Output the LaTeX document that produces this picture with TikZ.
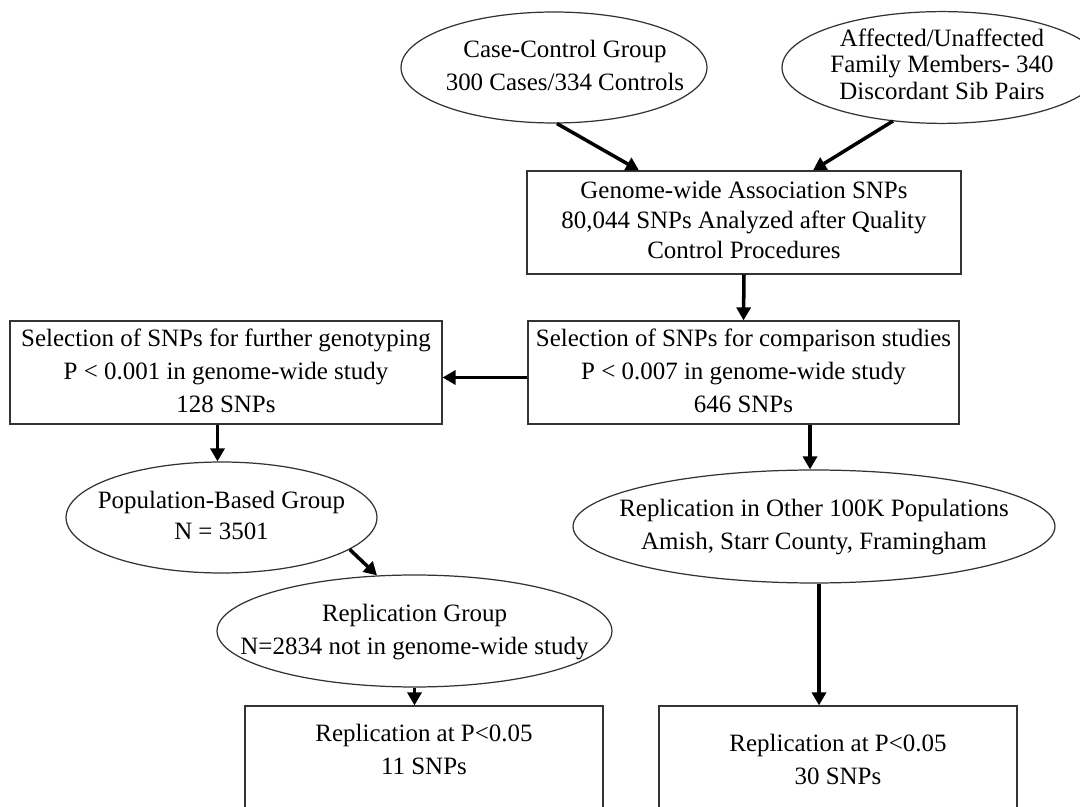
\documentclass[tikz,border=0pt]{standalone}
\usepackage{fontspec}
\setmainfont{Liberation Serif}
\usetikzlibrary{shapes.geometric,arrows.meta,calc}
\newcommand{\tx}[2][18.8pt]{\makebox[0pt]{\fontsize{14.2pt}{#1}\selectfont\begin{tabular}{@{}c@{}}#2\end{tabular}}}
\begin{document}
\begin{tikzpicture}[x=0.02cm,y=-0.02cm,
  ell/.style={ellipse,draw=black!80,line width=0.7pt,inner sep=0pt},
  boxx/.style={rectangle,draw=black!80,line width=0.7pt,inner sep=0pt},
  txt/.style={inner sep=0pt},
  arr/.style={line width=2pt,-{Triangle[length=0.26cm,width=0.28cm]}}]
\useasboundingbox[fill=white] (0,0) rectangle (1080,807);

\node[ell,minimum width=6.12cm,minimum height=2.22cm] (e1) at (554,67.5)
  {\hspace{0.44cm}\tx{Case-Control Group\\300 Cases/334 Controls}};
\node[ell,minimum width=6.40cm,minimum height=2.22cm] (e2) at (942,67.5)
  {\tx[15pt]{Affected/Unaffected\\Family Members- 340\\Discordant Sib Pairs}};

\node[boxx,minimum width=8.68cm,minimum height=2.06cm] (b1) at (744,222.5)
  {\tx[17pt]{Genome-wide Association SNPs\\80,044 SNPs Analyzed after Quality\\Control Procedures}};
\node[boxx,minimum width=8.62cm,minimum height=2.06cm] (b2) at (743.5,372.5)
  {\tx{Selection of SNPs for comparison studies\\P < 0.007 in genome-wide study\\646 SNPs}};
\node[boxx,minimum width=8.64cm,minimum height=2.06cm] (b3) at (226,372.5)
  {\tx{Selection of SNPs for further genotyping\\P < 0.001 in genome-wide study\\128 SNPs}};

\node[ell,minimum width=6.22cm,minimum height=2.22cm] (pb) at (221.5,517.5)
  {\tx[17.6pt]{Population-Based Group\\N = 3501}\hspace{0.2cm}};
\node[ell,minimum width=7.90cm,minimum height=2.24cm] (rg) at (414.5,631)
  {\tx{Replication Group\\N=2834 not in genome-wide study}};
\node[ell,minimum width=9.64cm,minimum height=2.26cm] (rio) at (814,526.5)
  {\tx{Replication in Other 100K Populations\\Amish, Starr County, Framingham}\hspace{0.16cm}};

\node[boxx,minimum width=7.16cm,minimum height=2.68cm] (bl) at (424,773) {};
\node[txt] (blt) at (424,751.5) {\tx{Replication at P<0.05\\11 SNPs}};
\node[boxx,minimum width=7.16cm,minimum height=2.68cm] (br) at (838,773) {};
\node[txt] (brt) at (838,761.5) {\tx{Replication at P<0.05\\30 SNPs}};

\coordinate (p1) at ($(pb.north)+(-4,0)$);
\coordinate (q1) at ($(rio.north)+(-4,0)$);
\coordinate (r1) at ($(rio.south)+(5,0)$);

\draw[arr] ($(e1.south)+(3,0)$) -- ($(b1.north)+(-105,0)$);
\draw[arr] ($(e2.south)+(-49,-3)$) -- ($(b1.north)+(69,0)$);
\draw[arr] (b1.south) -- (b2.north);
\draw[arr] ($(b2.west)+(0,5)$) -- ($(b3.east)+(0,5)$);
\draw[arr] (p1 |- b3.south) -- (p1);
\draw[arr] (q1 |- b2.south) -- (q1);
\draw[arr] (r1) -- (r1 |- br.north);
\draw[arr] (pb.-14) -- (rg.124);
\draw[arr] (rg.south) -- (rg.south |- bl.north);
\end{tikzpicture}
\end{document}
